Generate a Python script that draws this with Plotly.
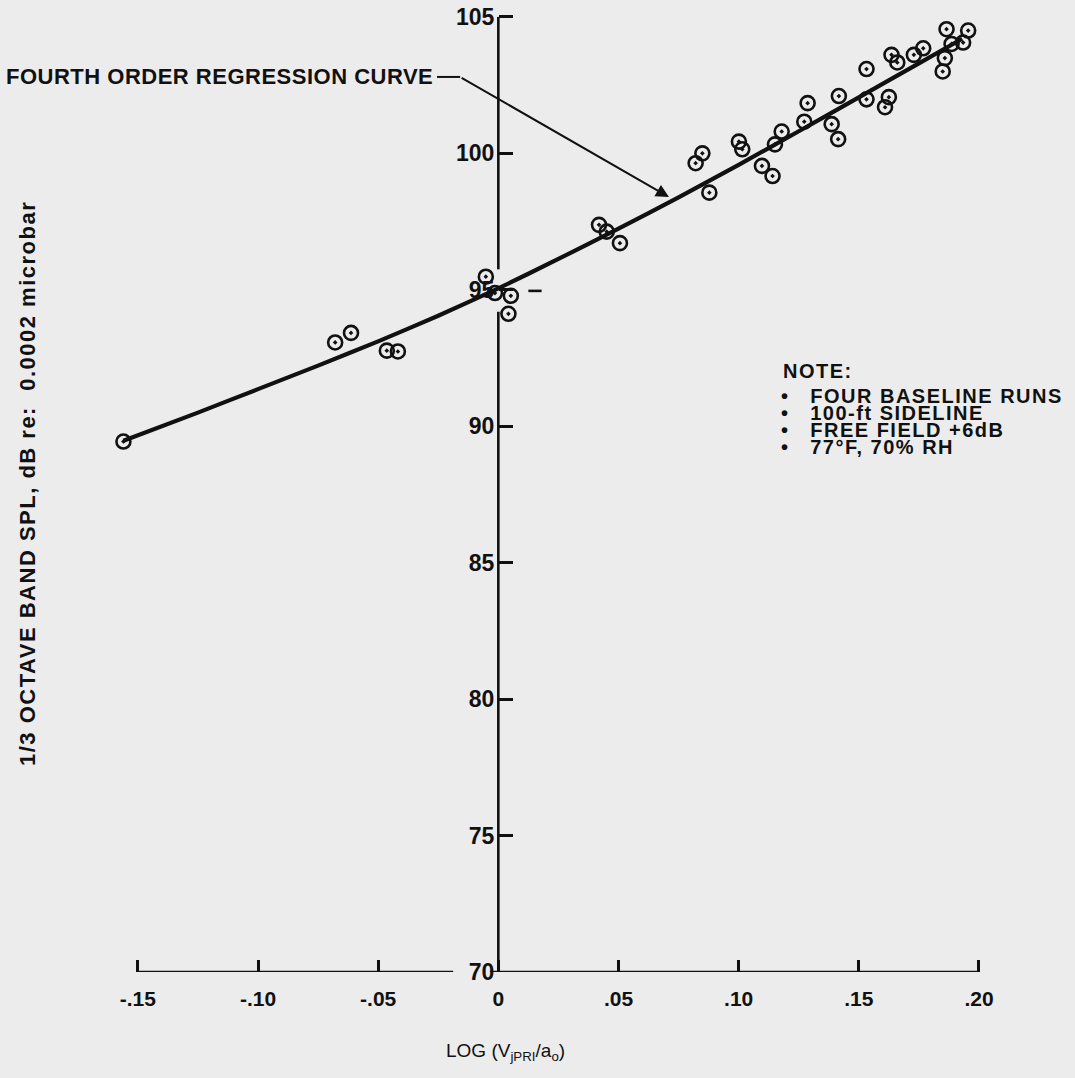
import plotly.graph_objects as go

# ---------------- data ----------------
pts_x = [-0.156, -0.0679, -0.0613, -0.0464, -0.0418,
         -0.0052, -0.0014, 0.0052, 0.0042,
         0.0419, 0.0451, 0.0506,
         0.0821, 0.0849, 0.0878, 0.1001, 0.1015, 0.1097, 0.1141, 0.1151,
         0.1179, 0.1273, 0.1287, 0.1387, 0.1414, 0.1417, 0.1532, 0.1532,
         0.1625, 0.1609, 0.1636, 0.1660, 0.1729, 0.1768, 0.1865, 0.1886,
         0.1858, 0.1849, 0.1934, 0.1955]
pts_y = [89.44, 93.07, 93.42, 92.77, 92.74,
         95.48, 94.88, 94.78, 94.12,
         97.38, 97.13, 96.71,
         99.64, 100.00, 98.56, 100.43, 100.15, 99.54, 99.17, 100.33,
         100.80, 101.16, 101.84, 101.07, 100.52, 102.10, 101.98, 103.09,
         102.06, 101.69, 103.61, 103.33, 103.61, 103.85, 104.55, 104.01,
         103.49, 103.00, 104.06, 104.50]

# fourth-order regression curve
curve_x = [-0.156, -0.125, -0.10, -0.075, -0.05, -0.025, 0.0, 0.025, 0.05,
           0.075, 0.10, 0.125, 0.15, 0.175, 0.193]
curve_y = [89.47, 90.5, 91.36, 92.22, 93.11, 94.05, 95.05, 96.13, 97.24,
           98.39, 99.58, 100.81, 102.05, 103.3, 104.2]

x_tickvals = [-0.15, -0.10, -0.05, 0, 0.05, 0.10, 0.15, 0.20]
x_ticktext = ["-.15", "-.10", "-.05", "0", ".05", ".10", ".15", ".20"]
y_tickvals = [70, 75, 80, 85, 90, 95, 100, 105]
y_ticktext = ["70", "75", "80", "85", "90", "95", "100", "105"]

note_lines = ["FOUR BASELINE RUNS", "100-ft SIDELINE", "FREE FIELD +6dB",
              "77°F, 70% RH"]

# ---------------- layout geometry ----------------
W, H = 1075, 1078
X0, X1 = -0.162, 0.205
Y0, Y1 = 70, 105.4
L, R, T, B = 109, 84, 6, 106
BG = "#ececec"
INK = "#111111"
HELV = "Liberation Sans"


def px(xp):
    return (xp - L) / (W - L - R)


def py(yp):
    return 1 - (yp - T) / (H - T - B)


def spaced(txt, sp):
    return '<span style="letter-spacing:%spx">%s</span>' % (sp, txt)


fig = go.Figure()

fig.add_trace(go.Scatter(
    x=curve_x, y=curve_y, mode="lines",
    line=dict(color=INK, width=4.2, shape="spline", smoothing=0.4),
    hoverinfo="skip", showlegend=False, cliponaxis=False))

fig.add_trace(go.Scatter(
    x=pts_x, y=pts_y, mode="markers",
    marker=dict(symbol="circle-open-dot", size=14, color=INK,
                line=dict(color=INK, width=2.6)),
    showlegend=False, cliponaxis=False))

# axis lines drawn like the hand-drafted original
line_style = dict(color=INK, width=2.6)
shapes = [
    dict(type="line", xref="x", yref="y", x0=0, x1=0, y0=95.75, y1=105, line=line_style),
    dict(type="line", xref="x", yref="y", x0=0, x1=0, y0=70, y1=94.2, line=line_style),
    dict(type="line", xref="x", yref="y", x0=-0.15, x1=-0.0188, y0=70, y1=70, line=line_style),
    dict(type="line", xref="x", yref="y", x0=-0.0035, x1=0.20, y0=70, y1=70, line=line_style),
    dict(type="line", xref="x", yref="y", x0=0.0125, x1=0.018, y0=94.96, y1=94.96, line=line_style),
    dict(type="line", xref="x", yref="y", x0=-0.0255, x1=-0.0159, y0=102.8, y1=102.8,
         line=dict(color=INK, width=2)),
]

annotations = [
    dict(x=-0.0265, y=102.8, xref="x", yref="y", xanchor="right", yanchor="middle",
         text=spaced("FOURTH ORDER REGRESSION CURVE", 0.5), showarrow=False,
         font=dict(family=HELV, size=22, color=INK, weight="bold")),
    dict(x=0.071, y=98.4, xref="x", yref="y", ax=-0.0159, ay=102.8,
         axref="x", ayref="y", text="", showarrow=True, arrowhead=2,
         arrowsize=1.3, arrowwidth=2, arrowcolor=INK, standoff=0, startstandoff=0),
    dict(x=px(781), y=py(371), xref="paper", yref="paper", xanchor="left",
         yanchor="middle", text=spaced("NOTE:", 1.5), showarrow=False,
         font=dict(family=HELV, size=20, color=INK, weight="bold")),
    dict(x=px(27), y=py(484), xref="paper", yref="paper", textangle=-90,
         xanchor="center", yanchor="middle",
         text=spaced("1/3 OCTAVE BAND SPL, dB re:&nbsp; 0.0002 microbar", 1.5),
         showarrow=False,
         font=dict(family=HELV, size=22, color=INK, weight="bold")),
    dict(x=px(505), y=py(1052), xref="paper", yref="paper",
         xanchor="center", yanchor="middle",
         text="LOG (V<sub>jPRI</sub>/a<sub>o</sub>)", showarrow=False,
         font=dict(family=HELV, size=19, color=INK)),
]
note_y = [396, 413, 430, 447]
for txt, yy in zip(note_lines, note_y):
    annotations.append(dict(
        x=px(779), y=py(yy), xref="paper", yref="paper",
        xanchor="left", yanchor="middle",
        text="•&nbsp;&nbsp;&nbsp;&nbsp;" + spaced(txt, 1.5),
        showarrow=False,
        font=dict(family=HELV, size=20, color=INK, weight="bold")))

fig.update_layout(
    width=W, height=H,
    margin=dict(l=L, r=R, t=T, b=B, autoexpand=False),
    paper_bgcolor=BG, plot_bgcolor=BG,
    showlegend=False,
    shapes=shapes, annotations=annotations,
    xaxis=dict(range=[X0, X1], showgrid=False, zeroline=False, showline=False,
               ticks="inside", ticklen=12, tickwidth=2.5, tickcolor=INK,
               tickvals=x_tickvals, ticktext=x_ticktext, ticklabelstandoff=12,
               tickfont=dict(family=HELV, size=21, color=INK, weight="bold")),
    yaxis=dict(range=[Y0, Y1], anchor="free", position=(0 - X0) / (X1 - X0),
               side="left", showgrid=False, zeroline=False, showline=False,
               ticks="inside", ticklen=14, tickwidth=2.5, tickcolor=INK,
               tickvals=y_tickvals, ticktext=y_ticktext, ticklabelstandoff=4,
               tickfont=dict(family=HELV, size=23, color=INK, weight="bold")),
)

fig.write_html("out.html")
